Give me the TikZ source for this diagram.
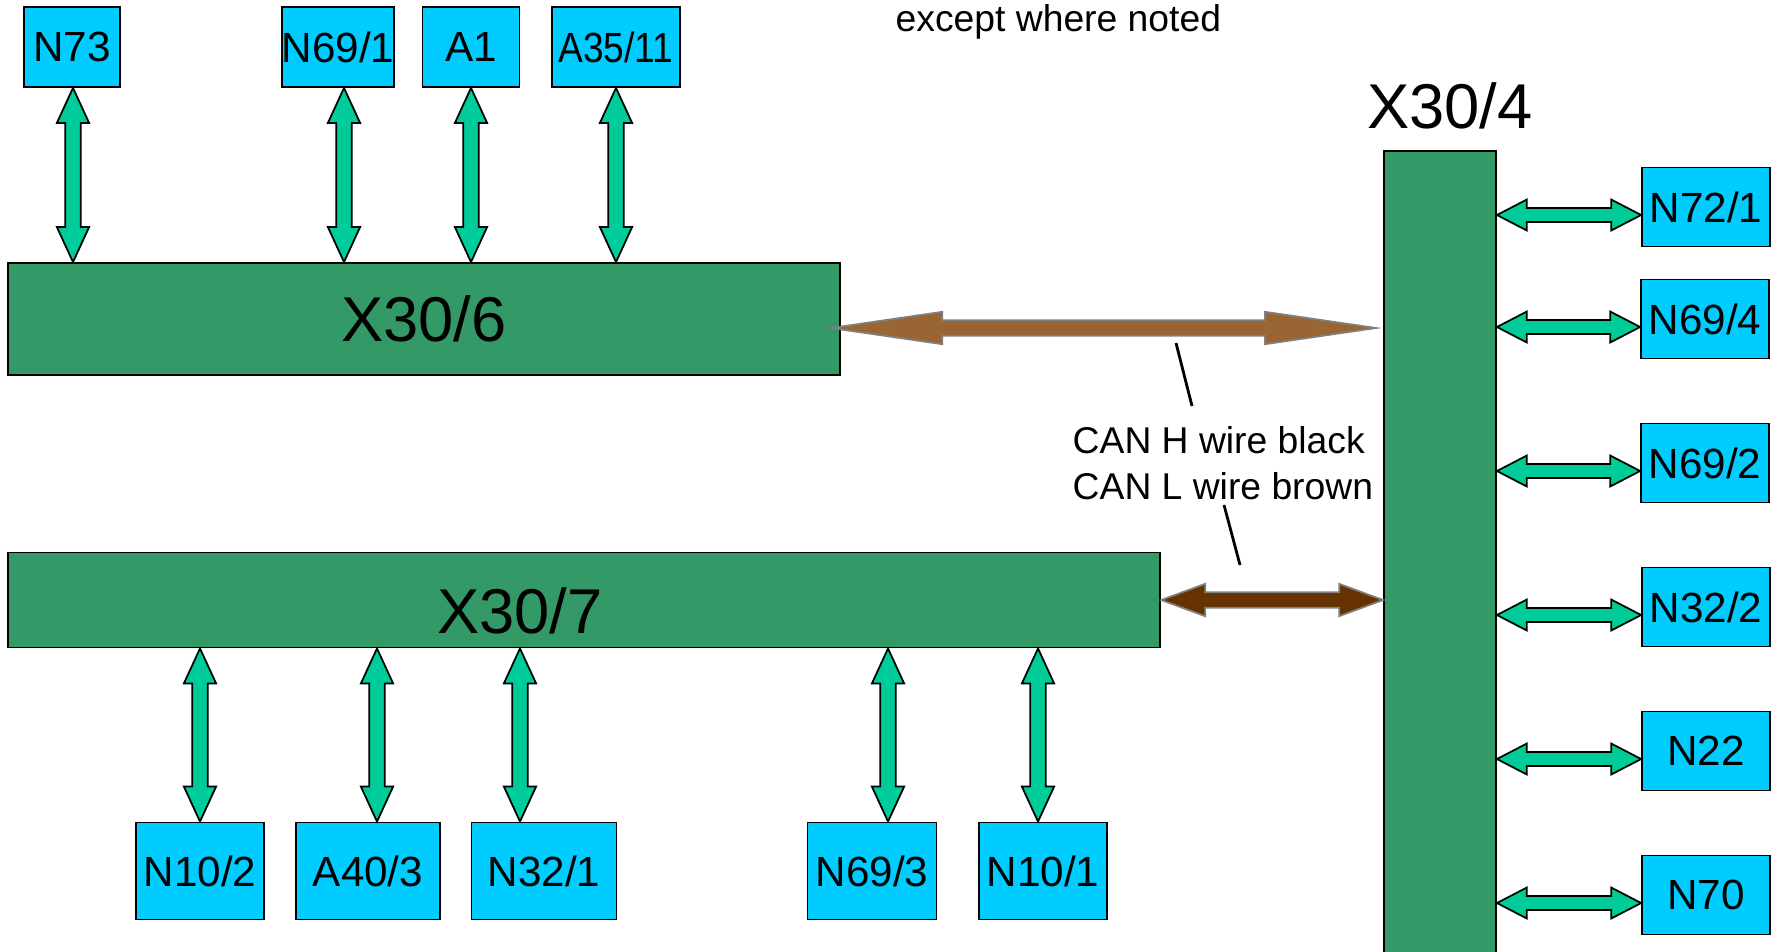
\documentclass[tikz,border=0pt]{standalone}
\usepackage{fontspec}
\setmainfont{Liberation Sans}
\usetikzlibrary{calc,positioning}
\definecolor{modcyan}{HTML}{00CCFF}
\definecolor{busgreen}{HTML}{339966}
\definecolor{linkgreen}{HTML}{00CC99}
\definecolor{canlight}{HTML}{996633}
\definecolor{candark}{HTML}{663300}
\tikzset{
  module/.style={draw, fill=modcyan, line width=0.5pt, inner sep=0pt,
    minimum height=0.8cm, font=\fontsize{12}{14}\selectfont},
  busbar/.style={draw, fill=busgreen, line width=0.5pt, inner sep=0pt,
    font=\fontsize{18}{21}\selectfont},
  link/.style={fill=linkgreen, draw=black, line width=0.5pt},
  canlink/.style={draw=gray, line width=0.5pt},
  leader/.style={line width=0.8pt},
  shaft half/.store in=\shaftw, head half/.store in=\headw,
  shaft half=2.2pt, head half=4.6pt
}
% block arrow with two heads: [style]{from}{to}{head length}
\newcommand{\busarrow}[4][]{%
  \path[#1] let \p1=(#2), \p2=(#3),
      \n1={atan2(\y2-\y1,\x2-\x1)}, \n2={veclen(\x2-\x1,\y2-\y1)} in
    [shift={(\p1)}, rotate=\n1]
    (0pt,0pt) -- (#4,\headw) -- (#4,\shaftw) -- ({\n2*1pt-#4},\shaftw)
    -- ({\n2*1pt-#4},\headw) -- ({\n2*1pt},0pt) -- ({\n2*1pt-#4},-\headw)
    -- ({\n2*1pt-#4},-\shaftw) -- (#4,-\shaftw) -- (#4,-\headw) -- cycle;
}

\begin{document}
\begin{tikzpicture}[x=0.01cm, y=-0.01cm]
  \useasboundingbox (0,0) rectangle (1780,951);
  \node[font=\fontsize{10.6}{13}\selectfont, inner sep=0pt, anchor=base west] (note) at (895,31) {except where noted};

  % gateways
  \node[busbar, minimum width=8.32cm, minimum height=1.12cm] (x306) at (424,319) {X30/6};
  \node[busbar, minimum width=11.52cm, minimum height=0.95cm,
    label={[font=\fontsize{18}{21}\selectfont, xshift=-0.64cm, yshift=-0.11cm]center:X30/7}] (x307) at (584,600) {};
  \node[busbar, minimum width=1.12cm, minimum height=8.1cm] (x304) at (1440,556) {};
  \node[font=\fontsize{18}{21}\selectfont, inner sep=0pt] (x304lbl) at (1450,106) {X30/4};

  % control units
  \node[module, minimum width=0.96cm] (n73) at (72,47) {N73};
  \node[module, minimum width=1.08cm] (n691) at (338,47) {N69/1};
  \node[module, minimum width=0.97cm] (a1) at (471,47) {A1};
  \node[module, minimum width=1.28cm] (a3511) at (616,47) {\scalebox{0.88}[1]{A35/11}};

  \node[module, minimum width=1.28cm, minimum height=0.97cm] (n102) at (200,871) {N10/2};
  \node[module, minimum width=1.44cm, minimum height=0.97cm] (a403) at (368,871) {A40/3};
  \node[module, minimum width=1.45cm, minimum height=0.97cm] (n321) at (544,871) {N32/1};
  \node[module, minimum width=1.29cm, minimum height=0.97cm] (n693) at (872,871) {N69/3};
  \node[module, minimum width=1.28cm, minimum height=0.97cm] (n101) at (1043,871) {N10/1};

  \node[module, minimum width=1.28cm, minimum height=0.79cm] (n721) at (1706,207) {N72/1};
  \node[module, minimum width=1.28cm, minimum height=0.79cm] (n694) at (1705,319) {N69/4};
  \node[module, minimum width=1.28cm, minimum height=0.79cm] (n692) at (1705,463) {N69/2};
  \node[module, minimum width=1.28cm, minimum height=0.79cm] (n322) at (1706,607) {N32/2};
  \node[module, minimum width=1.28cm, minimum height=0.79cm] (n22) at (1706,751) {N22};
  \node[module, minimum width=1.28cm, minimum height=0.79cm] (n70) at (1706,895) {N70};

  % links
  \foreach \m/\dx in {n73/0.01, n691/0.06, a1/0, a3511/0} {
    \coordinate (t\m) at ([xshift=\dx cm]\m.south);
    \busarrow[link]{t\m}{t\m |- x306.north}{10pt}
  }
  \foreach \m/\dx in {n102/0, a403/0.09, n321/-0.24, n693/0.16, n101/-0.05} {
    \coordinate (b\m) at ([xshift=\dx cm]\m.north);
    \busarrow[link]{b\m}{b\m |- x307.south}{10pt}
  }
  \foreach \m in {n721, n694, n692, n322, n22, n70} {
    \coordinate (r\m) at ([yshift=-0.08cm]\m.west);
    \busarrow[link, shaft half=2pt, head half=4.4pt]{x304.east |- r\m}{r\m}{8.5pt}
  }

  % CAN lines
  \coordinate (canh) at ([yshift=-0.09cm]x306.east);
  \coordinate (canhend) at ($(x304.west |- canh)+(-7,0)$);
  \busarrow[canlink, fill=canlight]{[xshift=-0.1cm]canh}{canhend}{31.6pt}
  \busarrow[canlink, fill=candark]{x307.east}{x304.west |- x307.east}{12.5pt}

  \node[font=\fontsize{10.6}{13.1}\selectfont, align=left, inner sep=0pt, anchor=north west] (canlbl) at (1072,426) {CAN H wire black\\CAN L wire brown};
  \coordinate (hpt) at (1176,343);
  \coordinate (lpt) at (1240,565);
  \draw[leader] (hpt) -- ([shift={(120,-20)}]canlbl.north west);
  \draw[leader] ([shift={(152,79)}]canlbl.north west) -- (lpt);
\end{tikzpicture}
\end{document}
